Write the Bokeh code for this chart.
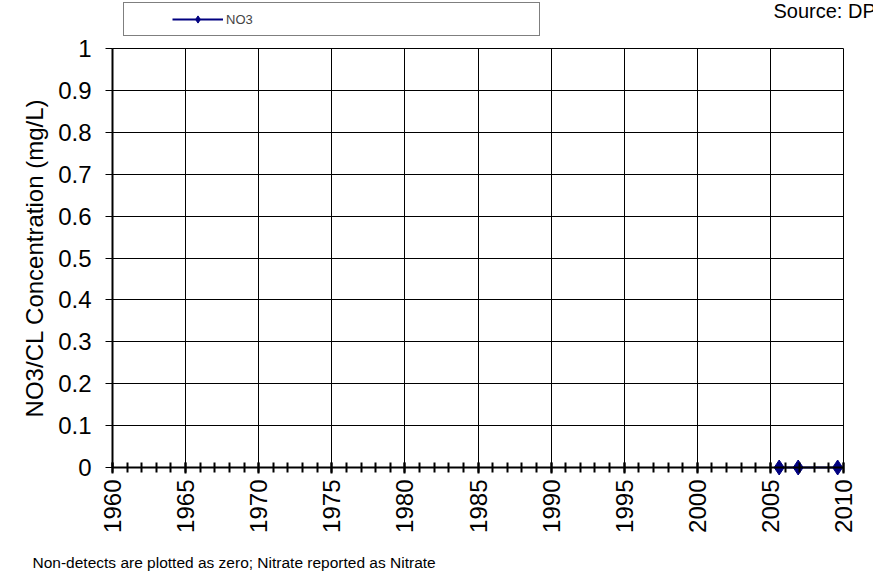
import math
from bokeh.plotting import figure
from bokeh.models import (FixedTicker, Legend, LegendItem, Label, Range1d)
from bokeh.embed import file_html
from bokeh.resources import INLINE

# ---- data ----
years = [2005.6, 2006.9, 2009.6]
no3 = [0.0, 0.0, 0.0]
x_major = [1960, 1965, 1970, 1975, 1980, 1985, 1990, 1995, 2000, 2005, 2010]
x_minor = list(range(1960, 2011))
y_ticks = [0.0, 0.1, 0.2, 0.3, 0.4, 0.5, 0.6, 0.7, 0.8, 0.9, 1.0]
y_tick_labels = ["0", "0.1", "0.2", "0.3", "0.4", "0.5", "0.6", "0.7", "0.8", "0.9", "1"]
series_name = "NO3"
y_title = "NO3/CL Concentration (mg/L)"
source_text = "Source: DPH"
footnote = "Non-detects are plotted as zero; Nitrate reported as Nitrate"

FONT = "Liberation Sans"
NAVY = "#000080"

# geometry (pixels) of the chart area
X0, X1 = 1960, 2010
PX_PER_YEAR = 731 / (X1 - X0)
PX_PER_UNIT = 419.0
AXIS_X, CANVAS_W = 112, 873
ZERO_Y, CANVAS_H = 467, 573

p = figure(width=CANVAS_W, height=CANVAS_H, output_backend="svg",
           toolbar_location=None, title=None,
           x_range=Range1d(X0 - AXIS_X / PX_PER_YEAR,
                           X0 + (CANVAS_W - AXIS_X) / PX_PER_YEAR),
           y_range=Range1d(-(CANVAS_H - ZERO_Y) / PX_PER_UNIT, ZERO_Y / PX_PER_UNIT),
           min_border_left=0, min_border_right=0, min_border_top=0,
           min_border_bottom=0)
p.background_fill_color = "white"
p.border_fill_color = "white"
p.outline_line_color = None

# grid
p.xgrid.ticker = FixedTicker(ticks=x_major)
p.ygrid.ticker = FixedTicker(ticks=y_ticks)
p.xgrid.bounds = (X0, X1)
p.xgrid.cross_bounds = (0, 1)
p.ygrid.bounds = (0, 1)
p.ygrid.cross_bounds = (X0, X1)
for g in (p.xgrid, p.ygrid):
    g.grid_line_color = "black"
    g.grid_line_width = 1
    g.grid_line_alpha = 1.0

# x axis (drawn at y = 0)
xa = p.xaxis[0]
xa.fixed_location = 0
xa.bounds = (X0, X1)
xa.ticker = FixedTicker(ticks=x_major, minor_ticks=x_minor)
xa.axis_line_color = "black"
xa.axis_line_width = 2
xa.major_tick_in = 5
xa.major_tick_out = 6
xa.minor_tick_in = 5
xa.minor_tick_out = 5
xa.major_tick_line_width = 2
xa.minor_tick_line_width = 2
xa.major_tick_line_color = "black"
xa.minor_tick_line_color = "black"
xa.major_label_orientation = math.pi / 2
xa.major_label_standoff = 6
xa.major_label_text_font = FONT
xa.major_label_text_font_size = "24px"
xa.major_label_text_color = "black"

# y axis (drawn at x = 1960)
ya = p.yaxis[0]
ya.fixed_location = X0
ya.bounds = (0, 1)
ya.ticker = FixedTicker(ticks=y_ticks, minor_ticks=[])
ya.major_label_overrides = {t: l for t, l in zip(y_ticks, y_tick_labels)}
ya.axis_line_color = "black"
ya.axis_line_width = 2
ya.major_tick_in = 0
ya.major_tick_out = 7
ya.major_tick_line_width = 1
ya.major_tick_line_color = "black"
ya.minor_tick_line_color = None
ya.major_label_standoff = 14
ya.major_label_text_font = FONT
ya.major_label_text_font_size = "24px"
ya.major_label_text_color = "black"
ya.axis_label = y_title
ya.axis_label_text_font = FONT
ya.axis_label_text_font_size = "24px"
ya.axis_label_text_font_style = "normal"
ya.axis_label_text_color = "black"
ya.axis_label_standoff = 7

# data
ln = p.line(years, no3, line_color=NAVY, line_width=2)
sc = p.scatter(years, no3, marker="diamond", size=15,
               fill_color=NAVY, line_color=NAVY)

legend = Legend(items=[LegendItem(label=series_name, renderers=[ln, sc])],
                location=(123, CANVAS_H - 36),
                orientation="horizontal",
                title=" ", title_location="left", title_standoff=26,
                title_text_font_size="13px",
                padding=7, margin=0, spacing=0,
                glyph_width=51, glyph_height=18, label_height=18,
                label_width=306, label_standoff=3,
                label_text_font=FONT, label_text_font_size="13px",
                border_line_color="black", border_line_width=1.5,
                background_fill_color="white", background_fill_alpha=1.0)
p.add_layout(legend, "center")

p.add_layout(Label(x=X0 + (773 - AXIS_X) / PX_PER_YEAR,
                   y=(ZERO_Y - 10) / PX_PER_UNIT,
                   text=source_text, text_font=FONT,
                   text_font_size="20px", text_color="black",
                   text_baseline="alphabetic"))

p.add_layout(Label(x=X0 + (32 - AXIS_X) / PX_PER_YEAR,
                   y=(ZERO_Y - 562) / PX_PER_UNIT,
                   text=footnote, text_font=FONT,
                   text_font_size="15.5px", text_color="black",
                   text_baseline="alphabetic"))

open("out.html", "w").write(file_html(p, INLINE))
